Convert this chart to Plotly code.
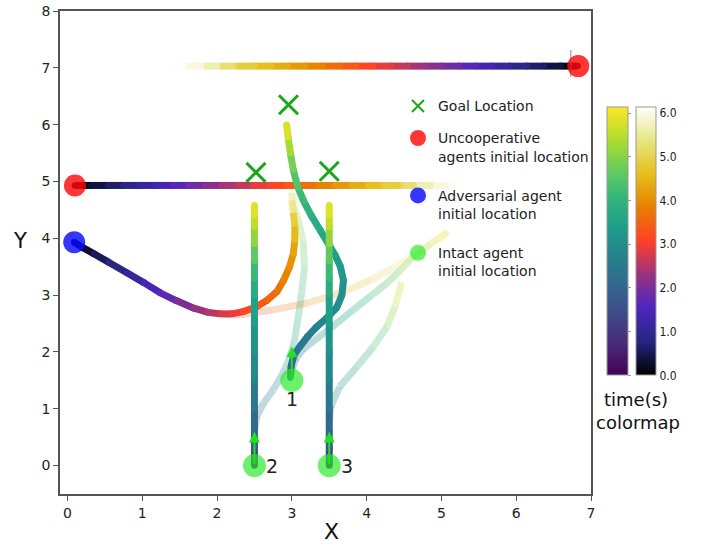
import plotly.graph_objects as go

# ---------------- data ----------------
T_MAX = 6.13  # top of the time colour scale (s)

# uncooperative agents (constant-velocity horizontal tracks)
UNCOOP_T = [0, .25, .5, .75, 1, 1.25, 1.5, 1.75, 2, 2.25, 2.5, 2.75, 3, 3.25,
            3.5, 3.75, 4, 4.25, 4.5, 4.75, 5, 5.25, 5.5, 5.75, 6]
UNCOOP_A_X = [6.82, 6.59, 6.37, 6.14, 5.91, 5.68, 5.46, 5.23, 5.00, 4.77, 4.55, 4.32,
              4.09, 3.86, 3.64, 3.41, 3.18, 2.95, 2.73, 2.50, 2.27, 2.04, 1.82, 1.59, 1.36]
UNCOOP_A_Y = 7.03
UNCOOP_B_X = [0.10, 0.32, 0.54, 0.75, 0.97, 1.19, 1.41, 1.62, 1.84, 2.06, 2.28, 2.49,
              2.71, 2.93, 3.15, 3.36, 3.58, 3.80, 4.02, 4.23, 4.45, 4.67, 4.89, 5.10, 5.32]
UNCOOP_B_Y = 4.93
# thin heading tick drawn at the start of the upper uncooperative agent
UNCOOP_A_TICK_X = [6.73, 6.73]
UNCOOP_A_TICK_Y = [6.84, 7.31]

# adversarial agent
ADV_X = [0.09, 0.2, 0.35, 0.55, 0.8, 1.02, 1.24, 1.46, 1.69, 1.87, 2.04, 2.2, 2.35,
         2.52, 2.67, 2.8, 2.89, 2.97, 3.02, 3.04, 3.04, 3.02, 3.0, 2.98]
ADV_Y = [3.93, 3.84, 3.73, 3.58, 3.39, 3.22, 3.04, 2.9, 2.77, 2.7, 2.67, 2.67, 2.71,
         2.79, 2.91, 3.06, 3.26, 3.5, 3.73, 3.97, 4.2, 4.45, 4.67, 4.85]
ADV_T = [0.0, 0.2, 0.4, 0.65, 0.95, 1.25, 1.55, 1.85, 2.15, 2.4, 2.65, 2.85, 3.05,
         3.25, 3.45, 3.62, 3.8, 3.97, 4.15, 4.4, 4.7, 5.0, 5.4, 5.8]

# adversarial alternative (faint) path
ADV_ALT_X = [2.1, 2.31, 2.75, 3.2, 3.64, 4.05, 4.35, 4.65]
ADV_ALT_Y = [2.66, 2.65, 2.74, 2.86, 3.03, 3.26, 3.48, 3.72]
ADV_ALT_T = [2.75, 2.95, 3.4, 3.85, 4.3, 4.75, 5.1, 5.5]

# intact agents 2 and 3 (vertical tracks)
INTACT_Y = [0.0, 0.1, 0.3, 0.6, 1.0, 1.5, 2.0, 2.5, 3.0, 3.3, 3.6, 3.9, 4.2, 4.4, 4.58]
INTACT_T = [0.0, 0.9, 1.6, 1.95, 2.3, 2.7, 3.05, 3.3, 3.55, 3.95, 4.35, 4.85, 5.35, 5.7, 6.0]
AGENT2_X = 2.5
AGENT3_X = 3.5

# intact agent 1
AGENT1_X = [2.98, 2.99, 3.03, 3.11, 3.21, 3.33, 3.47, 3.6, 3.67, 3.69, 3.65, 3.58,
            3.49, 3.38, 3.26, 3.16, 3.08, 3.02, 2.98, 2.95, 2.93]
AGENT1_Y = [1.55, 1.75, 1.95, 2.1, 2.27, 2.44, 2.6, 2.78, 3.0, 3.26, 3.5, 3.7,
            3.9, 4.14, 4.4, 4.65, 4.9, 5.2, 5.5, 5.78, 6.0]
AGENT1_T = [2.0, 2.15, 2.3, 2.45, 2.55, 2.65, 2.78, 2.9, 3.02, 3.15, 3.27, 3.4,
            3.52, 3.65, 3.85, 4.05, 4.3, 4.6, 5.05, 5.55, 6.0]

# faint alternative paths of intact agents
ALT1_X = [2.99, 3.05, 3.15, 3.3, 3.5, 3.82, 4.05, 4.27, 4.45, 4.62, 4.85, 5.09]
ALT1_Y = [1.65, 1.88, 2.05, 2.2, 2.4, 2.74, 2.98, 3.21, 3.44, 3.67, 3.9, 4.11]
ALT1_T = [2.1, 2.4, 2.7, 3.0, 3.3, 3.75, 4.1, 4.45, 4.8, 5.15, 5.55, 6.0]
ALT2_X = [2.5, 2.53, 2.62, 2.75, 2.87, 2.96, 3.03, 3.08, 3.13, 3.17, 3.15, 3.09, 3.03, 3.0]
ALT2_Y = [0.6, 0.86, 1.1, 1.33, 1.6, 1.86, 2.16, 2.56, 3.03, 3.5, 3.96, 4.3, 4.55, 4.8]
ALT2_T = [1.9, 2.2, 2.45, 2.7, 2.95, 3.2, 3.45, 3.75, 4.1, 4.45, 4.85, 5.2, 5.5, 5.9]
ALT3_X = [3.5, 3.52, 3.64, 3.87, 4.09, 4.27, 4.38, 4.47]
ALT3_Y = [0.75, 1.04, 1.39, 1.74, 2.09, 2.44, 2.8, 3.23]
ALT3_T = [2.0, 2.4, 2.9, 3.5, 4.1, 4.7, 5.3, 6.0]

# markers
GOAL_X = [2.52, 2.955, 3.50]
GOAL_Y = [5.16, 6.35, 5.18]
UNCOOP_START_X = [0.10, 6.83]
UNCOOP_START_Y = [4.93, 7.03]
ADV_START_X = [0.09]
ADV_START_Y = [3.93]
INTACT_START_X = [3.0, 2.5, 3.5]
INTACT_START_Y = [1.5, 0.0, 0.0]
INTACT_LABELS = ["1", "2", "3"]
HEADING_DY = [0.6, 0.6, 0.6]

X_TICKS = [0, 1, 2, 3, 4, 5, 6, 7]
Y_TICKS = [0, 1, 2, 3, 4, 5, 6, 7, 8]
CBAR_TICKS = [0, 1, 2, 3, 4, 5, 6]

# ---------------- colour maps ----------------
CMR_STOPS = [(0.0, (0, 0, 0)), (0.125, (38, 38, 128)), (0.25, (77, 38, 191)),
             (0.375, (153, 51, 128)), (0.5, (255, 64, 38)), (0.625, (230, 128, 0)),
             (0.75, (230, 191, 26)), (0.875, (230, 230, 128)), (1.0, (255, 255, 255))]
VIR_HEX = ['#440154', '#482878', '#3e4989', '#31688e', '#26828e',
           '#1f9e89', '#35b779', '#6ece58', '#b5de2b', '#fde725']
VIR_STOPS = [(i / 9, tuple(int(h[k:k + 2], 16) for k in (1, 3, 5))) for i, h in enumerate(VIR_HEX)]


def to_scale(stops):
    return [[p, 'rgb(%d,%d,%d)' % c] for p, c in stops]


def color_at(stops, v):
    v = max(0.0, min(1.0, v))
    for (p0, c0), (p1, c1) in zip(stops[:-1], stops[1:]):
        if v <= p1:
            f = (v - p0) / (p1 - p0) if p1 > p0 else 0
            c = [c0[k] + f * (c1[k] - c0[k]) for k in range(3)]
            return 'rgb(%d,%d,%d)' % tuple(round(x) for x in c)
    return 'rgb(%d,%d,%d)' % stops[-1][1]


FONT = "DejaVu Sans"
W = 7
FADE_S = 1.0

fig = go.Figure()


def add_track(xs, ys, ts, stops, alpha=1.0, fade=False):
    t_end = ts[-1]
    n = len(ts)
    if not isinstance(xs, list):
        xs = [xs] * n
    if not isinstance(ys, list):
        ys = [ys] * n
    for i in range(n - 1):
        tm = 0.5 * (ts[i] + ts[i + 1])
        col = color_at(stops, tm / T_MAX)
        op = alpha
        if fade:
            op *= max(0.05, min(1.0, (t_end - tm) / FADE_S))
        solid = op >= 0.999
        fig.add_trace(go.Scatter(
            x=[xs[i], xs[i + 1]], y=[ys[i], ys[i + 1]],
            mode='lines+markers' if solid else 'lines',
            line=dict(color=col, width=W),
            marker=dict(color=col, size=W - 0.5, line=dict(width=0)),
            opacity=op, showlegend=False, hoverinfo='skip'))


# faint alternative paths
add_track(ALT2_X, ALT2_Y, ALT2_T, VIR_STOPS, alpha=0.28)
add_track(ALT3_X, ALT3_Y, ALT3_T, VIR_STOPS, alpha=0.28)
add_track(ALT1_X, ALT1_Y, ALT1_T, VIR_STOPS, alpha=0.3)
add_track(ADV_ALT_X, ADV_ALT_Y, ADV_ALT_T, CMR_STOPS, alpha=0.22)

# uncooperative + adversarial
add_track(UNCOOP_A_X, UNCOOP_A_Y, UNCOOP_T, CMR_STOPS, fade=True)
add_track(UNCOOP_B_X, UNCOOP_B_Y, UNCOOP_T, CMR_STOPS, fade=True)
add_track(ADV_X, ADV_Y, ADV_T, CMR_STOPS, fade=True)
fig.add_trace(go.Scatter(x=UNCOOP_A_TICK_X, y=UNCOOP_A_TICK_Y, mode='lines', showlegend=False,
                         line=dict(color='#888', width=1), hoverinfo='skip'))

# intact agents
add_track(AGENT1_X, AGENT1_Y, AGENT1_T, VIR_STOPS)
add_track(AGENT2_X, INTACT_Y, INTACT_T, VIR_STOPS)
add_track(AGENT3_X, INTACT_Y, INTACT_T, VIR_STOPS)

GOAL_C = '#1aa81a'
RED_C = 'rgba(255,10,10,0.82)'
BLUE_C = 'rgba(10,10,255,0.82)'
GREEN_C = 'rgba(40,235,40,0.68)'

fig.add_trace(go.Scatter(x=GOAL_X, y=GOAL_Y, mode='markers', showlegend=False,
                         marker=dict(symbol='x-thin', size=19, line=dict(width=3, color=GOAL_C)),
                         hoverinfo='skip'))
fig.add_trace(go.Scatter(x=UNCOOP_START_X, y=UNCOOP_START_Y, mode='markers', showlegend=False,
                         marker=dict(size=22, color=RED_C), hoverinfo='skip'))
fig.add_trace(go.Scatter(x=ADV_START_X, y=ADV_START_Y, mode='markers', showlegend=False,
                         marker=dict(size=22, color=BLUE_C), hoverinfo='skip'))
fig.add_trace(go.Scatter(x=INTACT_START_X, y=INTACT_START_Y, mode='markers', showlegend=False,
                         marker=dict(size=23, color=GREEN_C), hoverinfo='skip'))

# heading arrows and labels
for x0, y0, dy in zip(INTACT_START_X, INTACT_START_Y, HEADING_DY):
    fig.add_annotation(x=x0, y=y0 + dy, ax=x0, ay=y0, xref='x', yref='y', axref='x', ayref='y',
                       text='', showarrow=True, arrowhead=2, arrowsize=1.1, arrowwidth=2,
                       arrowcolor='#22e022')
label_offsets = [(0, -19, 'center'), (10, 0, 'left'), (10, 0, 'left')]
for x0, y0, lab, (dx, dy, anc) in zip(INTACT_START_X, INTACT_START_Y, INTACT_LABELS, label_offsets):
    fig.add_annotation(x=x0, y=y0, xref='x', yref='y', text=lab, showarrow=False,
                       xshift=dx, yshift=dy, xanchor=anc, yanchor='middle',
                       font=dict(family=FONT, size=19, color='#222'))

# legend-only entries
fig.add_trace(go.Scatter(x=[None], y=[None], mode='markers', name='Goal Location', legend='legend2',
                         marker=dict(symbol='x-thin', size=12, line=dict(width=2, color=GOAL_C))))
fig.add_trace(go.Scatter(x=[None], y=[None], mode='markers', legendgroup='u',
                         name='Uncooperative<br>agents initial location',
                         marker=dict(size=16, color=RED_C)))
fig.add_trace(go.Scatter(x=[None], y=[None], mode='markers', legendgroup='a',
                         name='Adversarial agent<br>initial location',
                         marker=dict(size=16, color=BLUE_C)))
fig.add_trace(go.Scatter(x=[None], y=[None], mode='markers', legendgroup='i',
                         name='Intact agent<br>initial location',
                         marker=dict(size=16, color=GREEN_C)))

# colour bars
L, R, T, B = 60, 591, 10.5, 494
PW, PH = R - L, B - T


def px_x(p):
    return (p - L) / PW


def px_y(p):
    return (B - p) / PH


cb_common = dict(xanchor='left', xpad=0, yanchor='top', ypad=0, y=px_y(107),
                 len=268, lenmode='pixels', thicknessmode='pixels',
                 outlinewidth=1, outlinecolor='#999', tickvals=CBAR_TICKS)
fig.add_trace(go.Scatter(x=[-9], y=[-9], mode='markers', showlegend=False, hoverinfo='skip',
                         marker=dict(color=[0], cmin=0, cmax=T_MAX, colorscale=to_scale(VIR_STOPS),
                                     showscale=True,
                                     colorbar=dict(x=px_x(607), thickness=21, ticks='outside',
                                                   ticklen=3, tickcolor='#999',
                                                   showticklabels=False, **cb_common))))
fig.add_trace(go.Scatter(x=[-9], y=[-9], mode='markers', showlegend=False, hoverinfo='skip',
                         marker=dict(color=[0], cmin=0, cmax=T_MAX, colorscale=to_scale(CMR_STOPS),
                                     showscale=True,
                                     colorbar=dict(x=px_x(636), thickness=20, ticks='',
                                                   tickformat='.1f',
                                                   tickfont=dict(family="DejaVu Sans Condensed, DejaVu Sans",
                                                                 size=12, color='#222'),
                                                   **cb_common))))

for txt, cx, cy, sz in [('time(s)', 636, 399, 18), ('colormap', 638, 422, 18),
                        ('X', 331, 532, 22), ('Y', 20, 241, 21)]:
    fig.add_annotation(x=px_x(cx), y=px_y(cy), xref='paper', yref='paper', showarrow=False,
                       xanchor='center', yanchor='middle', text=txt,
                       font=dict(family=FONT, size=sz, color='#111'))

axis_common = dict(showgrid=False, zeroline=False, showline=True, linecolor='#555', linewidth=1.5,
                   mirror=True, ticks='outside', ticklen=5, tickwidth=1.3, tickcolor='#555',
                   tickfont=dict(family=FONT, size=14, color='#222'))
leg_common = dict(xanchor='left', yanchor='top', bgcolor='rgba(0,0,0,0)',
                  font=dict(family=FONT, size=14, color='#222'), valign='top')
fig.update_layout(
    width=709, height=546,
    margin=dict(l=L, r=709 - R, t=T, b=546 - B, autoexpand=False),
    paper_bgcolor='white', plot_bgcolor='white',
    xaxis=dict(range=[-0.1, 7.0], tickvals=X_TICKS, **axis_common),
    yaxis=dict(range=[-0.5, 8.0], tickvals=Y_TICKS, **axis_common),
    legend=dict(x=px_x(398), y=px_y(122), tracegroupgap=18, **leg_common),
    legend2=dict(x=px_x(398), y=px_y(90), **leg_common),
    showlegend=True,
)
fig.write_html("out.html")
